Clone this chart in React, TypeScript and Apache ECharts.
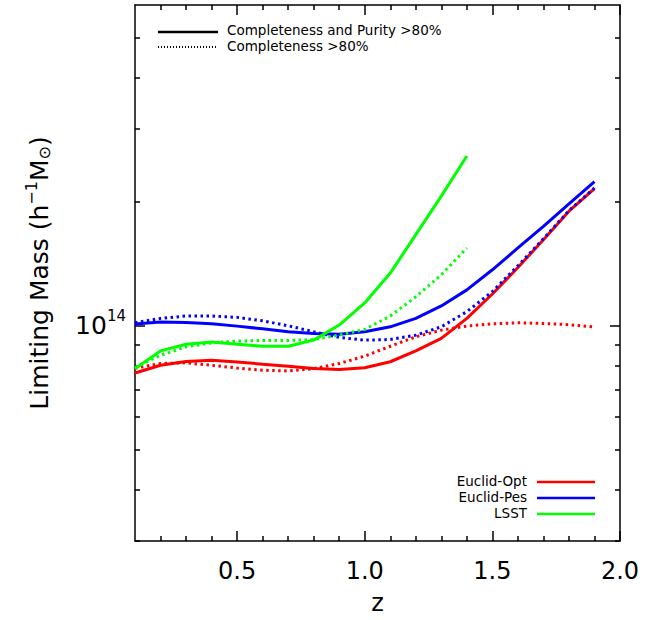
import React, { useEffect, useRef } from "react";
import * as echarts from "echarts";

// ---- data ----
const zValues = [0.1, 0.2, 0.3, 0.4, 0.5, 0.6, 0.7, 0.8, 0.9, 1.0, 1.1, 1.2, 1.3, 1.4, 1.5, 1.6, 1.7, 1.8, 1.9];

// Completeness and Purity > 80% (solid)
const euclidOptCP = [7.67e13, 8.01e13, 8.18e13, 8.24e13, 8.16e13, 8.06e13, 7.97e13, 7.87e13, 7.82e13, 7.9e13, 8.17e13, 8.68e13, 9.31e13, 1.041e14, 1.193e14, 1.383e14, 1.616e14, 1.895e14, 2.149e14];
const euclidPesCP = [1.0085e14, 1.0199e14, 1.018e14, 1.01e14, 0.997e14, 0.982e14, 0.966e14, 0.957e14, 0.953e14, 0.966e14, 0.993e14, 1.041e14, 1.116e14, 1.221e14, 1.366e14, 1.543e14, 1.742e14, 1.975e14, 2.236e14];
const lsstCP = [7.86e13, 8.68e13, 9.01e13, 9.12e13, 9.01e13, 8.91e13, 8.91e13, 9.22e13, 1.003e14, 1.135e14, 1.341e14, 1.662e14, 2.062e14, 2.58e14];

// Completeness > 80% (dotted)
const euclidOptC = [7.88e13, 8.09e13, 8.12e13, 8.01e13, 7.89e13, 7.79e13, 7.76e13, 7.86e13, 8.09e13, 8.43e13, 8.91e13, 9.39e13, 9.75e13, 9.97e13, 1.01e14, 1.016e14, 1.012e14, 1.005e14, 0.992e14];
const euclidPesC = [1.016e14, 1.041e14, 1.055e14, 1.055e14, 1.047e14, 1.027e14, 0.999e14, 0.966e14, 0.936e14, 0.922e14, 0.925e14, 0.948e14, 0.993e14, 1.081e14, 1.209e14, 1.397e14, 1.625e14, 1.902e14, 2.158e14];
const lsstC = [7.91e13, 8.47e13, 8.88e13, 9.08e13, 9.17e13, 9.2e13, 9.2e13, 9.25e13, 9.48e13, 9.79e13, 1.055e14, 1.175e14, 1.328e14, 1.543e14];

const xMajorTicks = [0.5, 1.0, 1.5, 2.0];
const xMinorTicks = [0.2, 0.3, 0.4, 0.6, 0.7, 0.8, 0.9, 1.1, 1.2, 1.3, 1.4, 1.6, 1.7, 1.8, 1.9];
const yMajorTicks = [1e14];
const yMinorTicks = [3e13, 4e13, 5e13, 6e13, 7e13, 8e13, 9e13, 2e14, 3e14, 4e14, 5e14, 6e14];

const surveyNames = ["Euclid-Opt", "Euclid-Pes", "LSST"];
const surveyColors = ["#ff0000", "#0000ff", "#00ff00"];
const styleLabels = ["Completeness and Purity >80%", "Completeness >80%"];

const FONT = "DejaVu Sans";

function pairs(vals: number[]) {
  return vals.map((v, i) => [zValues[i], v]);
}

export default function App() {
  const ref = useRef<HTMLDivElement>(null);

  useEffect(() => {
    if (!ref.current) return;
    const chart = echarts.init(ref.current, undefined, { renderer: "svg" });

    const axisLineStyle = { color: "#000", width: 1.5 };
    const baseX = (position: "top" | "bottom", ticks: number[], len: number, showLine: boolean) => ({
      type: "value" as const,
      position,
      min: 0.1,
      max: 2.0,
      axisLine: { show: showLine, onZero: false, lineStyle: axisLineStyle },
      axisTick: { show: true, inside: true, length: len, customValues: ticks, lineStyle: { color: "#000", width: 1.5 } },
      axisLabel: { show: false },
      splitLine: { show: false },
    });
    const baseY = (position: "left" | "right", ticks: number[], len: number, showLine: boolean) => ({
      type: "log" as const,
      logBase: 10,
      position,
      min: 3e13,
      max: 6e14,
      axisLine: { show: showLine, onZero: false, lineStyle: axisLineStyle },
      axisTick: { show: true, inside: true, length: len, customValues: ticks, lineStyle: { color: "#000", width: 1.5 } },
      axisLabel: { show: false },
      splitLine: { show: false },
      minorTick: { show: false },
    });

    const xMain: any = baseX("bottom", xMajorTicks, 10, true);
    xMain.axisLabel = {
      show: true,
      customValues: xMajorTicks,
      formatter: (v: number) => v.toFixed(1),
      fontFamily: FONT,
      fontSize: 24,
      color: "#000",
      margin: 18,
    };
    xMain.name = "z";
    xMain.nameLocation = "middle";
    xMain.nameGap = 50;
    xMain.nameTextStyle = { fontFamily: FONT, fontSize: 24, color: "#000" };

    const yMain: any = baseY("left", yMajorTicks, 10, true);
    yMain.axisLabel = {
      show: true,
      customValues: yMajorTicks,
      formatter: () => "10{sup|14}",
      fontFamily: FONT,
      fontSize: 25,
      color: "#000",
      margin: 9,
      rich: {
        sup: { fontFamily: FONT, fontSize: 15, color: "#000", padding: [0, 0, 20, 0] },
      },
    };
    yMain.name = "Limiting Mass (h{sup|−1}M{sub|⊙})";
    yMain.nameLocation = "middle";
    yMain.nameRotate = 90;
    yMain.nameGap = 80;
    yMain.nameTextStyle = {
      fontFamily: FONT,
      fontSize: 25,
      color: "#000",
      rich: {
        sup: { fontFamily: FONT, fontSize: 16, color: "#000", padding: [0, 0, 16, 0] },
        sub: { fontFamily: FONT, fontSize: 16, color: "#000", padding: [10, 0, 0, 0] },
      },
    };

    const seriesDefs = [
      { name: surveyNames[0] + " CP", data: euclidOptCP, color: surveyColors[0], dotted: false },
      { name: surveyNames[0] + " C", data: euclidOptC, color: surveyColors[0], dotted: true },
      { name: surveyNames[1] + " CP", data: euclidPesCP, color: surveyColors[1], dotted: false },
      { name: surveyNames[1] + " C", data: euclidPesC, color: surveyColors[1], dotted: true },
      { name: surveyNames[2] + " CP", data: lsstCP, color: surveyColors[2], dotted: false },
      { name: surveyNames[2] + " C", data: lsstC, color: surveyColors[2], dotted: true },
    ];

    const legendText = (text: string, x: number, y: number, align: string) => ({
      type: "text",
      x,
      y,
      style: {
        text,
        fontFamily: FONT,
        fontSize: 13.5,
        lineHeight: 13,
        fill: "#000",
        verticalAlign: "middle",
        align,
      },
    });

    const legendGraphics: any[] = [];
    // top style legend
    legendGraphics.push({
      type: "line",
      shape: { x1: 158, y1: 32, x2: 218, y2: 32 },
      style: { stroke: "#000", lineWidth: 2.5 },
    });
    legendGraphics.push(legendText(styleLabels[0], 227, 30, "left"));
    legendGraphics.push({
      type: "line",
      shape: { x1: 158, y1: 47, x2: 218, y2: 47 },
      style: { stroke: "#000", lineWidth: 2, lineDash: [1, 2] },
    });
    legendGraphics.push(legendText(styleLabels[1], 227, 46, "left"));
    // bottom-right survey legend
    surveyNames.forEach((n, i) => {
      const y = 482 + i * 16;
      legendGraphics.push({
        type: "line",
        shape: { x1: 537, y1: y, x2: 595, y2: y },
        style: { stroke: surveyColors[i], lineWidth: 2.5 },
      });
      legendGraphics.push(legendText(n, 527, y - 1, "right"));
    });

    chart.setOption({
      animation: false,
      backgroundColor: "#fff",
      grid: { left: 135, right: 30, top: 5, bottom: 79, containLabel: false },
      xAxis: [
        xMain,
        baseX("bottom", xMinorTicks, 5, false),
        baseX("top", xMajorTicks, 10, true),
        baseX("top", xMinorTicks, 5, false),
      ],
      yAxis: [
        yMain,
        baseY("left", yMinorTicks, 5, false),
        baseY("right", yMajorTicks, 10, true),
        baseY("right", yMinorTicks, 5, false),
      ],
      series: seriesDefs.map((s) => ({
        type: "line",
        name: s.name,
        xAxisIndex: 0,
        yAxisIndex: 0,
        data: pairs(s.data),
        showSymbol: false,
        symbol: "none",
        smooth: false,
        lineStyle: {
          color: s.color,
          width: 3,
          type: s.dotted ? [2.5, 3.5] : "solid",
          cap: "butt",
        },
        itemStyle: { color: s.color },
      })),
      graphic: legendGraphics,
    });

    return () => chart.dispose();
  }, []);

  return (
    <div
      ref={ref}
      style={{ position: "fixed", left: 0, top: 0, width: 650, height: 620, background: "#fff" }}
    />
  );
}
